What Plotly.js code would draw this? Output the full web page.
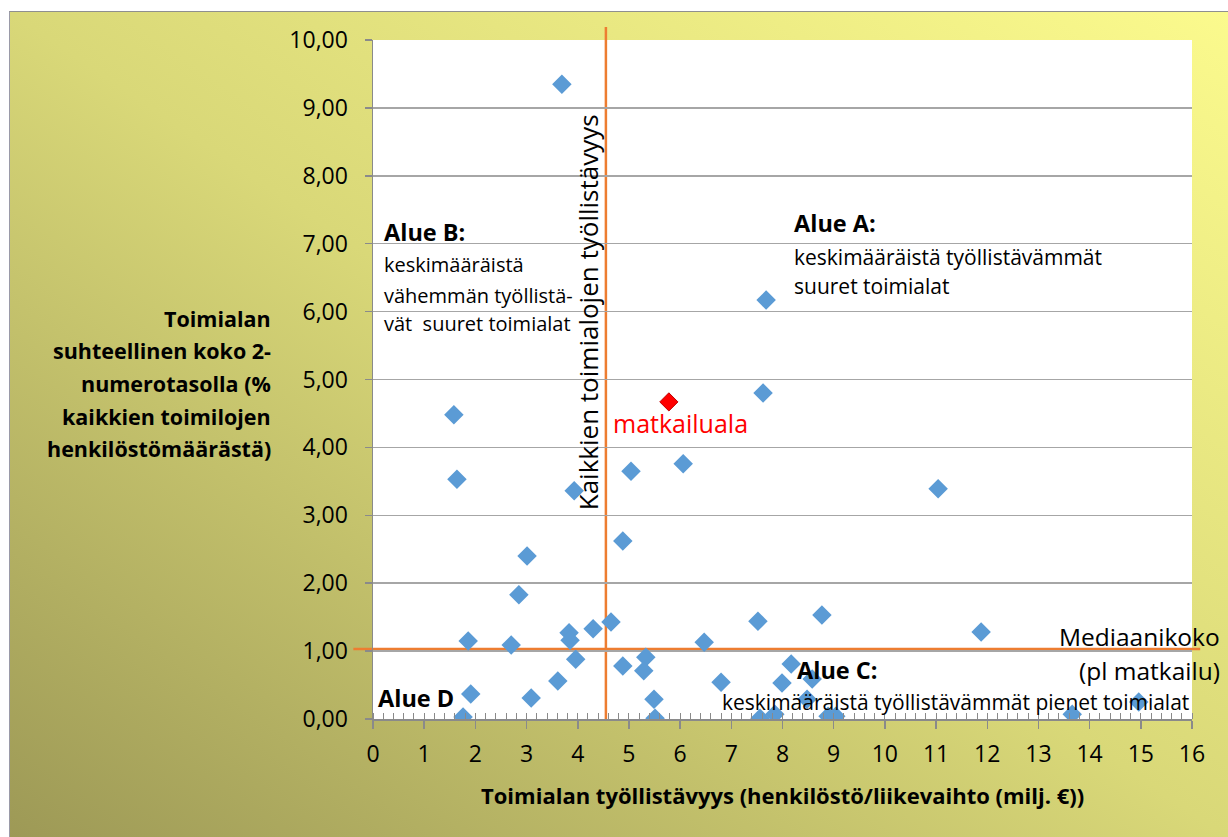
<!DOCTYPE html>
<html>
<head>
<meta charset="utf-8">
<script src="https://cdn.plot.ly/plotly-3.0.1.min.js"></script>
<style>
  html, body { margin: 0; padding: 0; background: #ffffff; }
  #wrap { position: relative; width: 1228px; height: 837px; overflow: hidden; }
  #bg { position: absolute; left: 9px; top: 11px; width: 1219px; height: 826px;
        border-top: 1px solid #8f8f8f; border-left: 1px solid #9a9aa8;
        background: linear-gradient(to top right, #9d9956 0%, #d9d878 50%, #fbfa8d 100%); }
  #chart { position: absolute; left: 0; top: 0; width: 1228px; height: 837px; }
</style>
</head>
<body>
<div id="wrap"><div id="bg"></div><div id="chart"></div></div>
<script>
// Toimialat: työllistävyys (henkilöstö / liikevaihto, milj. €) ja suhteellinen koko (%)
const industryEmployability = [
  3.69, 7.68, 7.62, 1.58, 1.64, 3.93, 5.04, 6.06, 11.04, 4.88,
  3.01, 2.85, 1.86, 2.70, 3.83, 3.85, 4.30, 4.65, 6.47, 7.52,
  8.77, 11.88, 3.96, 4.88, 5.33, 5.29, 3.61, 1.91, 3.09, 5.49,
  1.76, 5.51, 6.80, 8.17, 7.99, 8.58, 8.48, 7.56, 7.85, 8.89,
  9.04, 13.66, 14.96
];
const industrySize = [
  9.35, 6.17, 4.80, 4.48, 3.53, 3.36, 3.65, 3.76, 3.39, 2.62,
  2.40, 1.83, 1.15, 1.09, 1.27, 1.16, 1.33, 1.43, 1.13, 1.44,
  1.53, 1.28, 0.88, 0.78, 0.91, 0.71, 0.56, 0.37, 0.31, 0.29,
  0.03, 0.01, 0.54, 0.81, 0.53, 0.59, 0.29, 0.01, 0.07, 0.04,
  0.04, 0.07, 0.25
];
// Matkailuala
const tourismEmployability = [5.78];
const tourismSize = [4.67];
// Vertailuviivat
const averageEmployability = 4.55;   // Kaikkien toimialojen työllistävyys
const medianSize = 1.03;             // Mediaanikoko (pl matkailu)

const xTickValues = [0,1,2,3,4,5,6,7,8,9,10,11,12,13,14,15,16];
const yTickValues = [0,1,2,3,4,5,6,7,8,9,10];

const FONT = '"Open Sans", Lato, sans-serif';

const traces = [
  {
    type: 'scatter', mode: 'markers', name: 'Toimialat',
    x: industryEmployability, y: industrySize,
    marker: { symbol: 'diamond', size: 15, color: '#5b9bd5' },
    hoverinfo: 'x+y'
  },
  {
    type: 'scatter', mode: 'markers', name: 'matkailuala',
    x: tourismEmployability, y: tourismSize,
    marker: { symbol: 'diamond', size: 14, color: '#ff0000', line: { color: '#c00000', width: 1 } },
    hoverinfo: 'x+y'
  }
];

function ann(text, x, y, opts) {
  return Object.assign({
    text: text, x: x, y: y, xref: 'x', yref: 'y',
    showarrow: false, xanchor: 'left', yanchor: 'middle',
    font: { family: FONT, size: 20, color: '#000000' }
  }, opts || {});
}
function f(size, color) { return { family: FONT, size: size, color: color || '#000000' }; }

const annotations = [
  // Y-akselin otsikko (oikealle tasattu)
  ann('<b>Toimialan</b>', -0.122, 0.590, { xref: 'paper', yref: 'paper', xanchor: 'right', font: f(21.5) }),
  ann('<b>suhteellinen koko 2-</b>', -0.122, 0.542, { xref: 'paper', yref: 'paper', xanchor: 'right', font: f(21.5) }),
  ann('<b>numerotasolla (%</b>', -0.122, 0.494, { xref: 'paper', yref: 'paper', xanchor: 'right', font: f(21.5) }),
  ann('<b>kaikkien toimilojen</b>', -0.122, 0.446, { xref: 'paper', yref: 'paper', xanchor: 'right', font: f(21.5) }),
  ann('<b>henkilöstömäärästä)</b>', -0.122, 0.399, { xref: 'paper', yref: 'paper', xanchor: 'right', font: f(21.5) }),
  // X-akselin otsikko
  ann('<b>Toimialan työllistävyys (henkilöstö/liikevaihto (milj. €))</b>', 0.5, -0.112, { xref: 'paper', yref: 'paper', xanchor: 'center', font: f(22) }),
  // Alue B
  ann('<b>Alue B:</b>', 0.18, 7.17, { font: f(23.5) }),
  ann('keskimääräistä', 0.18, 6.69),
  ann('vähemmän työllistä-', 0.18, 6.24),
  ann('vät  suuret toimialat', 0.18, 5.82),
  // Alue A
  ann('<b>Alue A:</b>', 8.19, 7.30, { font: f(23.5) }),
  ann('keskimääräistä työllistävämmät', 8.19, 6.80, { font: f(21) }),
  ann('suuret toimialat', 8.19, 6.38, { font: f(21) }),
  // Matkailuala
  ann('matkailuala', 4.65, 4.36, { font: f(25, '#ff0000') }),
  // Pystyviiva
  ann('Kaikkien toimialojen työllistävyys', 4.20, 5.99, { xanchor: 'center', textangle: -90, font: f(26) }),
  // Mediaanikoko
  ann('Mediaanikoko', 1.037, 1.21, { xref: 'paper', xanchor: 'right', font: f(24.5) }),
  ann('(pl matkailu)', 1.037, 0.72, { xref: 'paper', xanchor: 'right', font: f(24.5) }),
  // Alue C
  ann('<b>Alue C:</b>', 8.24, 0.72, { font: f(23.5) }),
  ann('keskimääräistä työllistävämmät pienet toimialat', 6.78, 0.25, { font: f(21) }),
  // Alue D
  ann('<b>Alue D</b>', 0.06, 0.31, { font: f(23.5) })
];

const shapes = [
  { type: 'line', layer: 'below', xref: 'paper', yref: 'y',
    x0: -0.024, x1: 1.01, y0: medianSize, y1: medianSize,
    line: { color: '#ed7d31', width: 2.5 } },
  { type: 'line', layer: 'below', xref: 'x', yref: 'paper',
    x0: averageEmployability, x1: averageEmployability, y0: 0, y1: 1.019,
    line: { color: '#ed7d31', width: 2.5 } }
];

const layout = {
  width: 1228, height: 837,
  margin: { l: 373, r: 36, t: 40, b: 118 },
  paper_bgcolor: 'rgba(0,0,0,0)',
  plot_bgcolor: '#ffffff',
  separators: ',.',
  showlegend: false,
  font: { family: FONT, color: '#000000' },
  xaxis: {
    range: [0, 16], tickvals: xTickValues, ticktext: xTickValues.map(String),
    showgrid: false, zeroline: false,
    showline: true, linecolor: '#8a8a8a', linewidth: 1.5,
    ticks: 'outside', ticklen: 8, tickwidth: 1.5, tickcolor: '#8a8a8a',
    ticklabelstandoff: 6,
    minor: { ticks: 'inside', dtick: 0.2, ticklen: 6, tickwidth: 1, tickcolor: '#8a8a8a', showgrid: false },
    tickfont: f(23),
    fixedrange: true
  },
  yaxis: {
    range: [0, 10], tickvals: yTickValues, tickformat: '.2f',
    showgrid: true, gridcolor: '#a6a6a6', gridwidth: 1.5, zeroline: false,
    showline: true, linecolor: '#8a8a8a', linewidth: 1.5,
    ticks: 'outside', ticklen: 7, tickwidth: 1.5, tickcolor: '#8a8a8a',
    ticklabelstandoff: 12,
    tickfont: f(23),
    fixedrange: true
  },
  annotations: annotations,
  shapes: shapes
};

Plotly.newPlot('chart', traces, layout, { displayModeBar: false, staticPlot: true });
</script>
</body>
</html>
